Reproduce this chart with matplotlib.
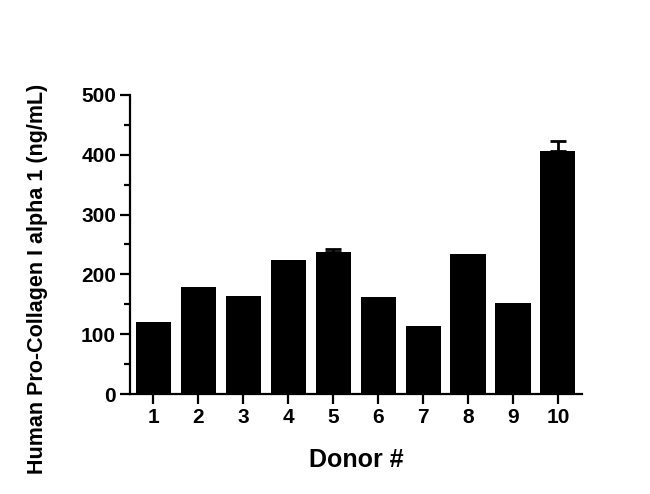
import matplotlib.pyplot as plt
from matplotlib.ticker import MultipleLocator

donors = ["1", "2", "3", "4", "5", "6", "7", "8", "9", "10"]
values = [120, 179, 164, 224, 237, 162, 114, 234, 152, 406]
errors = [0, 0, 0, 0, 5, 0, 0, 0, 0, 17]

plt.rcParams['font.family'] = ['Liberation Sans', 'DejaVu Sans']
plt.rcParams['font.weight'] = 'bold'

fig = plt.figure(figsize=(6.5, 4.94), dpi=100)
ax = fig.add_axes([0.2, 0.2024, 0.695, 0.6056])

x = list(range(1, len(donors) + 1))
ax.bar(x, values, width=0.78, color="black", zorder=2)

# only the bars with a visible SEM get an error bar
ex = [xi for xi, e in zip(x, errors) if e > 0]
ev = [v for v, e in zip(values, errors) if e > 0]
ee = [e for e in errors if e > 0]
ax.errorbar(ex, ev, yerr=[[0] * len(ee), ee], fmt="none",
            ecolor="black", elinewidth=2, capsize=6, capthick=2, zorder=1)

ax.set_xlim(0.48, 10.53)
ax.set_ylim(0, 500)
ax.set_xticks(x)
ax.set_xticklabels(donors)
ax.yaxis.set_major_locator(MultipleLocator(100))
ax.yaxis.set_minor_locator(MultipleLocator(50))

for side in ["top", "right"]:
    ax.spines[side].set_visible(False)
for side in ["left", "bottom"]:
    ax.spines[side].set_linewidth(1.6)

ax.tick_params(axis="both", which="major", length=7, width=1.6,
               labelsize=15, pad=3)
ax.tick_params(axis="y", which="minor", length=4, width=1.6)
for lab in ax.get_xticklabels() + ax.get_yticklabels():
    lab.set_fontweight("bold")

ax.set_xlabel("Donor #", fontsize=18, fontweight="bold")
ax.set_ylabel("Human Pro-Collagen I alpha 1 (ng/mL)", fontsize=15.5,
              fontweight="bold")
ax.xaxis.set_label_coords(0.5, -0.18)
ax.yaxis.set_label_coords(-0.182, 0.385)

fig.savefig("out.png", dpi=100)
